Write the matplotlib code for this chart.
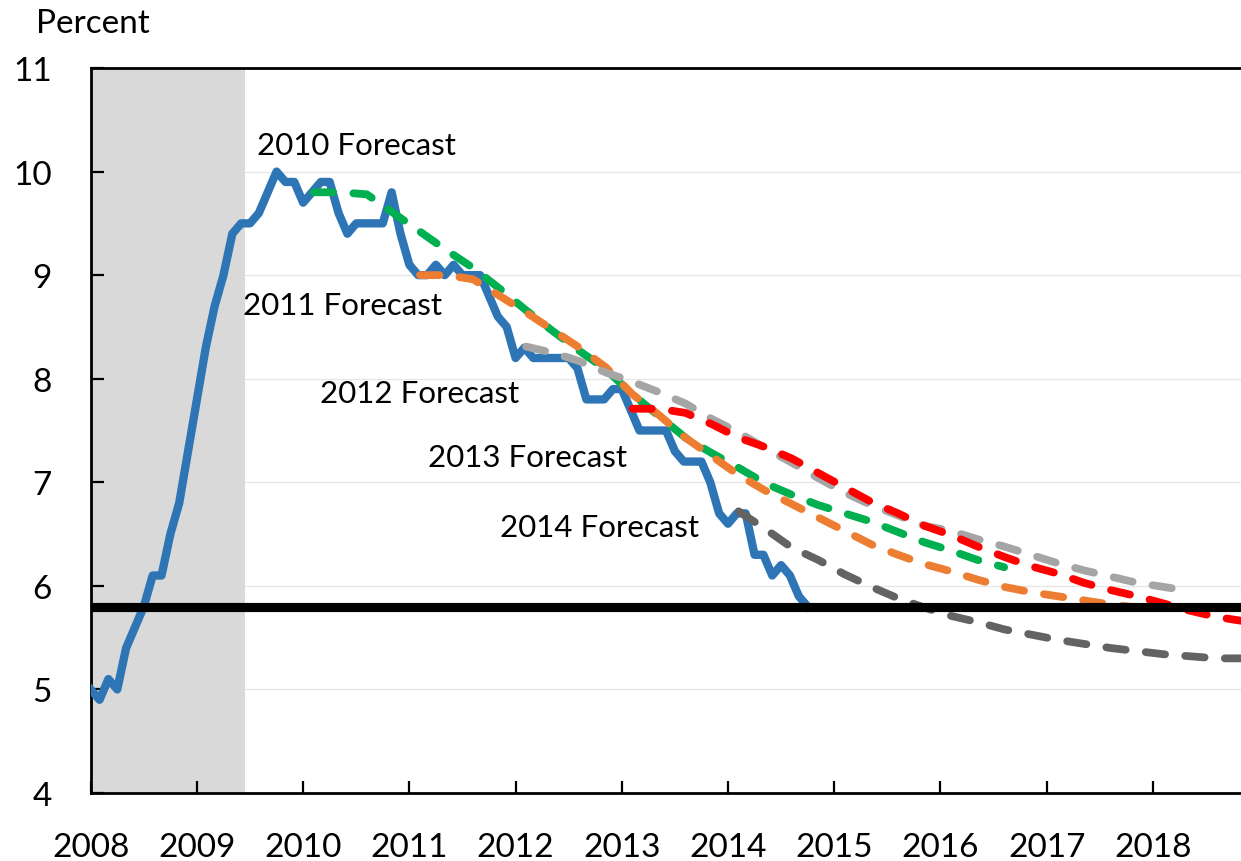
import matplotlib
matplotlib.use("Agg")
import matplotlib.pyplot as plt
import numpy as np

plt.rcParams['font.family'] = ['Lato', 'DejaVu Sans']

# Actual unemployment rate, monthly from Jan 2008
actual_start = 2008.0
actual = [5.0, 4.9, 5.1, 5.0, 5.4, 5.6, 5.8, 6.1, 6.1, 6.5, 6.8, 7.3,
          7.8, 8.3, 8.7, 9.0, 9.4, 9.5, 9.5, 9.6, 9.8, 10.0, 9.9, 9.9,
          9.7, 9.8, 9.9, 9.9, 9.6, 9.4, 9.5, 9.5, 9.5, 9.5, 9.8, 9.4,
          9.1, 9.0, 9.0, 9.1, 9.0, 9.1, 9.0, 9.0, 9.0, 8.8, 8.6, 8.5,
          8.2, 8.3, 8.2, 8.2, 8.2, 8.2, 8.2, 8.1, 7.8, 7.8, 7.8, 7.9,
          7.9, 7.7, 7.5, 7.5, 7.5, 7.5, 7.3, 7.2, 7.2, 7.2, 7.0, 6.7,
          6.6, 6.7, 6.7, 6.3, 6.3, 6.1, 6.2, 6.1, 5.9, 5.8]

# Forecasts (quarterly points)
f2010_start = 2010.10
f2010 = [9.80, 9.80, 9.78, 9.60, 9.42, 9.24, 9.07, 8.87, 8.66, 8.46, 8.27, 8.09,
         7.85, 7.64, 7.43, 7.28, 7.14, 6.99, 6.88, 6.78, 6.70, 6.62, 6.52, 6.42,
         6.34, 6.25, 6.18]
f2011_start = 2011.10
f2011 = [9.00, 9.00, 8.96, 8.80, 8.64, 8.47, 8.30, 8.11, 7.85, 7.65, 7.43, 7.25,
         7.07, 6.92, 6.79, 6.66, 6.53, 6.40, 6.30, 6.21, 6.14, 6.06, 5.99, 5.94,
         5.90, 5.86, 5.82, 5.79]
f2012_start = 2012.10
f2012 = [8.31, 8.25, 8.17, 8.06, 7.97, 7.87, 7.76, 7.61, 7.48, 7.33, 7.19, 7.04,
         6.90, 6.78, 6.68, 6.58, 6.53, 6.45, 6.38, 6.30, 6.22, 6.15, 6.09, 6.03,
         5.99, 5.95]
f2013_start = 2013.10
f2013 = [7.71, 7.71, 7.67, 7.56, 7.43, 7.34, 7.23, 7.09, 6.95, 6.81, 6.70, 6.58,
         6.49, 6.38, 6.28, 6.19, 6.12, 6.03, 5.96, 5.90, 5.83, 5.76, 5.70, 5.66]
f2014_start = 2014.10
f2014 = [6.72, 6.55, 6.37, 6.25, 6.11, 5.99, 5.88, 5.79, 5.71, 5.65, 5.58, 5.53,
         5.48, 5.44, 5.40, 5.37, 5.34, 5.32, 5.30, 5.30]

natural_rate = 5.8
recession = (2008.0, 2009.45)

year_ticks = list(range(2008, 2019))
y_ticks = [4, 5, 6, 7, 8, 9, 10, 11]

labels = ["2010 Forecast", "2011 Forecast", "2012 Forecast", "2013 Forecast", "2014 Forecast"]
label_pos = [(2009.566, 10.17), (2009.434, 8.628), (2010.159, 7.779), (2011.176, 7.162), (2011.854, 6.477)]

W, H = 1241, 862
fig = plt.figure(figsize=(W / 100, H / 100), dpi=100)
ax = fig.add_axes([90.7 / W, 68 / H, 1 - 90.7 / W, (794 - 69) / H])

ax.set_xlim(2008.0, 2018.83)
ax.set_ylim(4, 11)

for yv in y_ticks[1:-1]:
    ax.axhline(yv, color='#e6e6e6', lw=0.9, zorder=0)
ax.axvspan(recession[0], recession[1], color='#d9d9d9', lw=0, zorder=1)

xa = actual_start + np.arange(len(actual)) / 12.0
ax.plot(xa, actual, color='#2E75B6', lw=6.0, solid_joinstyle='round', zorder=3)

dash = dict(lw=5.6, dashes=(2.5, 2.6), dash_capstyle='round', dash_joinstyle='round')
series = [(f2010_start, f2010, '#00B050'), (f2011_start, f2011, '#ED7D31'),
          (f2012_start, f2012, '#A5A5A5'), (f2013_start, f2013, '#FF0000'),
          (f2014_start, f2014, '#636363')]
for i, (s, vals, c) in enumerate(series):
    xs = s + 0.25 * np.arange(len(vals))
    ax.plot(xs, vals, color=c, zorder=4 + i, **dash)

ax.axhline(natural_rate, color='black', lw=6.6, zorder=10)

for t, (x, y) in zip(labels, label_pos):
    ax.text(x, y, t, fontsize=22.5, ha='left', va='baseline', color='black', zorder=11)

ax.set_xticks(year_ticks)
ax.set_xticklabels([str(y) for y in year_ticks])
ax.set_yticks(y_ticks)
ax.tick_params(axis='both', direction='in', length=9, width=1.6, labelsize=24, colors='black')
ax.tick_params(axis='y', pad=28)
ax.tick_params(axis='x', pad=28)
for side in ['left', 'bottom', 'top']:
    ax.spines[side].set_linewidth(2)
    ax.spines[side].set_color('black')
ax.spines['right'].set_visible(False)

fig.text(36 / W, (H - 33) / H, "Percent", fontsize=24, ha='left', va='baseline')

fig.savefig("out.png", dpi=100)
